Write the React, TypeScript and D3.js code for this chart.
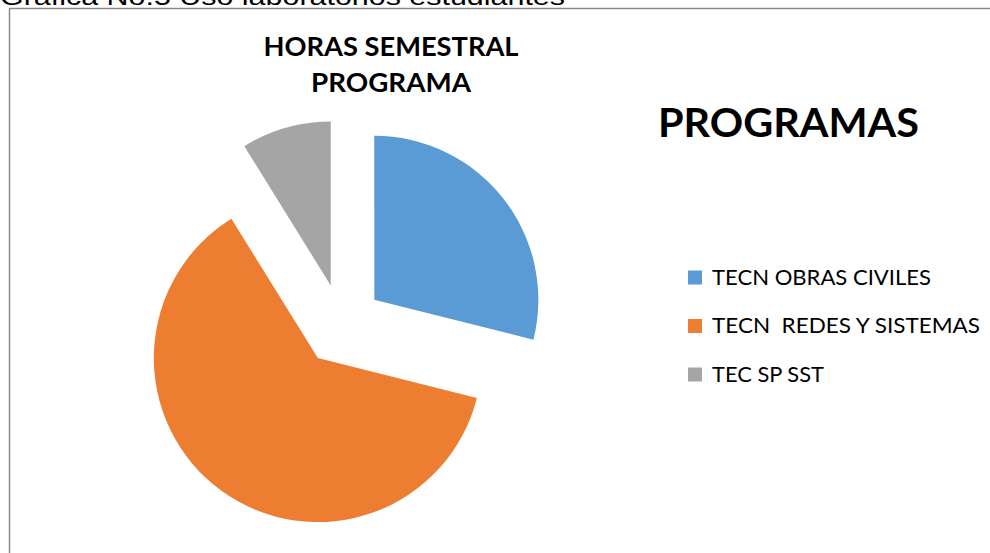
import React, { useEffect, useRef } from 'react';
import * as d3 from 'd3';

// datos de la grafica
const programas = ['TECN OBRAS CIVILES', 'TECN  REDES Y SISTEMAS', 'TEC SP SST'];
const horas = [288, 620, 88];
const colores = ['#5B9BD5', '#ED7D31', '#A5A5A5'];

const W = 990;
const H = 553;

export default function App() {
  const ref = useRef<SVGSVGElement>(null);

  useEffect(() => {
    const svg = d3.select(ref.current);
    svg.selectAll('*').remove();

    svg.append('rect').attr('width', W).attr('height', H).attr('fill', '#fff');

    // caption cut off at the top of the picture
    svg.append('text')
      .attr('x', 0)
      .attr('y', 5)
      .attr('font-family', 'Liberation Sans, Arial, sans-serif')
      .attr('font-size', 24)
      .attr('textLength', 565)
      .attr('lengthAdjust', 'spacingAndGlyphs')
      .attr('fill', '#000')
      .text('Gráfica No.5 Uso laboratorios estudiantes');

    // chart frame
    svg.append('rect')
      .attr('x', 9.5)
      .attr('y', 8.5)
      .attr('width', W + 20)
      .attr('height', H + 20)
      .attr('fill', 'none')
      .attr('stroke', '#8a8a8a')
      .attr('stroke-width', 1.5);

    const font = 'Lato, Open Sans, sans-serif';

    const title = svg.append('text')
      .attr('font-family', font)
      .attr('font-weight', 'bold')
      .attr('font-size', 27)
      .attr('fill', '#000')
      .attr('text-anchor', 'middle');
    title.append('tspan').attr('x', 391).attr('y', 56)
      .attr('textLength', 255).attr('lengthAdjust', 'spacingAndGlyphs')
      .text('HORAS SEMESTRAL');
    title.append('tspan').attr('x', 391).attr('y', 92)
      .attr('textLength', 160).attr('lengthAdjust', 'spacingAndGlyphs')
      .text('PROGRAMA');

    svg.append('text')
      .attr('x', 658)
      .attr('y', 137)
      .attr('font-family', font)
      .attr('font-weight', 'bold')
      .attr('font-size', 40)
      .attr('textLength', 261)
      .attr('lengthAdjust', 'spacingAndGlyphs')
      .attr('fill', '#000')
      .text('PROGRAMAS');

    // exploded pie
    const cx = 342, cy = 325, r = 164, explode = 41;
    const pie = d3.pie<number>().sort(null).value(d => d);
    const arc = d3.arc<d3.PieArcDatum<number>>().innerRadius(0).outerRadius(r);
    const arcs = pie(horas);

    svg.append('g')
      .attr('transform', `translate(${cx},${cy})`)
      .selectAll('path')
      .data(arcs)
      .enter()
      .append('path')
      .attr('d', arc)
      .attr('fill', (d, i) => colores[i])
      .attr('transform', d => {
        const a = (d.startAngle + d.endAngle) / 2;
        return `translate(${explode * Math.sin(a)},${-explode * Math.cos(a)})`;
      });

    // legend
    const legendY = d3.scalePoint<number>().domain([0, 1, 2]).range([284.5, 381.5]);
    const widths = [219, 268, 112];
    const leg = svg.append('g');
    programas.forEach((p, i) => {
      const y = legendY(i) as number;
      leg.append('rect')
        .attr('x', 688)
        .attr('y', y - 14)
        .attr('width', 14)
        .attr('height', 14)
        .attr('fill', colores[i]);
      leg.append('text')
        .attr('x', 712)
        .attr('y', y)
        .attr('font-family', font)
        .attr('font-size', 22)
        .attr('textLength', widths[i])
        .attr('lengthAdjust', 'spacingAndGlyphs')
        .attr('fill', '#000')
        .style('white-space', 'pre')
        .text(p);
    });
  }, []);

  return (
    <svg
      ref={ref}
      width={W}
      height={H}
      style={{ position: 'absolute', left: 0, top: 0 }}
    />
  );
}
